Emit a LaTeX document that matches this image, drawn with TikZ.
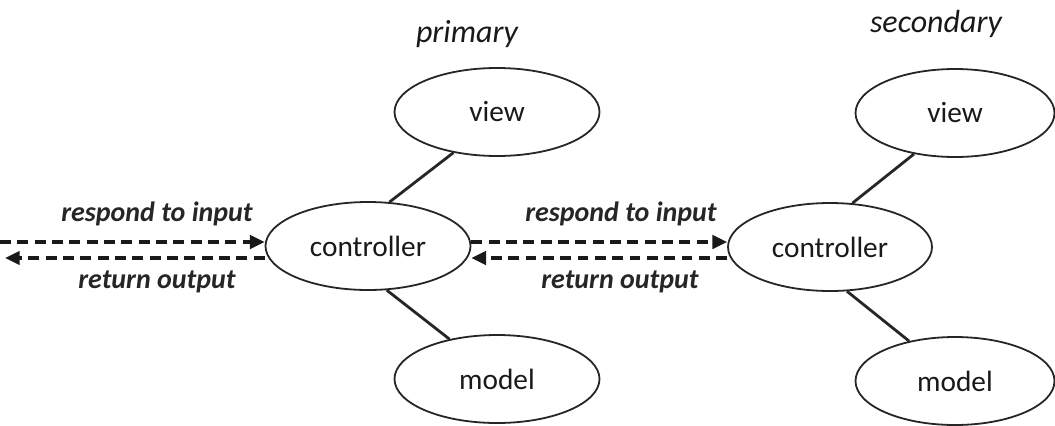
\documentclass[tikz,border=0pt]{standalone}
\usepackage{fontspec}
\setmainfont{Carlito}
\usetikzlibrary{shapes.geometric,arrows.meta}
\tikzset{
  oval/.style={ellipse, draw=black!85, line width=1.8pt*0.75, minimum width=205*0.75pt, minimum height=88*0.75pt, inner sep=0pt, font=\fontsize{22}{24}\selectfont, text=black!90},
  link/.style={line width=2.8pt*0.75, draw=black!85},
  flow/.style={line width=3.4pt*0.75, dash pattern=on 8.2pt off 4.8pt, draw=black!90, -{Triangle[length=11pt,width=10pt]}},
  lbl/.style={font=\fontsize{21}{24}\selectfont\bfseries\itshape, text=black!85, inner sep=0pt},
  hand/.style={font=\fontsize{24}{26}\selectfont\itshape, text=black!90, inner sep=0pt}
}
\begin{document}
\begin{tikzpicture}[x=0.75pt,y=-0.75pt]
\useasboundingbox (0,0) rectangle (1055,425);
% primary
\node[hand] (ph) at (467,34) {primary};
\node[oval] (v1) at (497,112) {view};
\node[oval] (c1) at (368,246) {controller};
\node[oval] (m1) at (497,379) {model};
\draw[link] (c1.64) -- (v1.223);
\draw[link] (c1.293) -- (m1.140);
% secondary
\node[hand] (sh) at (936,24) {secondary};
\node[oval, minimum width=199*0.75pt] (v2) at (955,113) {view};
\node[oval, minimum width=204*0.75pt] (c2) at (830,247) {controller};
\node[oval, minimum width=199*0.75pt] (m2) at (955,381) {model};
\draw[link] (c2.63) -- (v2.225);
\draw[link] (c2.291) -- (m2.139);
% flows left
\coordinate (inL) at (0,242);
\coordinate (outL) at (5,258);
\draw[flow] (inL) -- (c1.west |- inL);
\draw[flow] (c1.west |- outL) -- (outL);
\node[lbl] (r1) at (157,214) {respond to input};
\node[lbl] (o1) at (157,282) {return output};
% flows middle
\draw[flow] (c1.east |- inL) -- (c2.west |- inL);
\draw[flow] (c2.west |- outL) -- (c1.east |- outL);
\node[lbl] (r2) at (621,214) {respond to input};
\node[lbl] (o2) at (620,282) {return output};
\end{tikzpicture}
\end{document}
